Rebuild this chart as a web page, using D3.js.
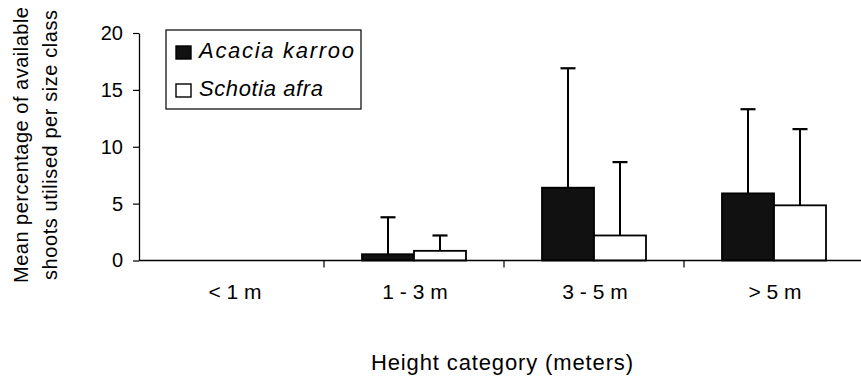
<!DOCTYPE html>
<html>
<head>
<meta charset="utf-8">
<script src="https://cdn.jsdelivr.net/npm/d3@7"></script>
<style>
  html, body { margin: 0; padding: 0; background: #fff; }
  svg { display: block; font-family: "Liberation Sans", Arial, sans-serif; }
</style>
</head>
<body>
<svg id="chart" width="861" height="381"></svg>
<script>
// Height classes and the two tree species
const categories = ["< 1 m", "1 - 3 m", "3 - 5 m", "> 5 m"];
const series = ["Acacia karroo", "Schotia afra"];

// Mean percentage of shoots utilised, per height class
const acaciaMeans = [0, 0.55, 6.4, 5.9];
const schotiaMeans = [0, 0.85, 2.2, 4.85];
// Upper end of the error bars (mean + SD)
const acaciaUpper = [0, 3.8, 16.9, 13.3];
const schotiaUpper = [0, 2.2, 8.65, 11.55];

const yTicks = [0, 5, 10, 15, 20];
const fills = ["#111", "#fff"];
const legendTextWidths = [155, 124];

const FONT = "Liberation Sans, Arial, sans-serif";
const svg = d3.select("#chart");

const x = d3.scaleBand().domain(categories).range([144, 864]);
const groupW = 104;
const x1 = d3.scaleBand().domain(series)
  .range([(x.bandwidth() - groupW) / 2, (x.bandwidth() + groupW) / 2]);
const y = d3.scaleLinear().domain([0, 20]).range([260.5, 33]);

const rows = categories.map((c, i) => ({
  cat: c,
  vals: [
    { s: series[0], mean: acaciaMeans[i], upper: acaciaUpper[i], fill: fills[0] },
    { s: series[1], mean: schotiaMeans[i], upper: schotiaUpper[i], fill: fills[1] }
  ]
}));

// Y axis
const yAxis = svg.append("g").attr("transform", "translate(139,0)")
  .call(d3.axisLeft(y).tickValues(yTicks).tickSize(6).tickSizeOuter(0).tickPadding(10));
yAxis.attr("font-family", FONT).attr("font-size", 20);
yAxis.select(".domain").attr("stroke", "#000").attr("stroke-width", 1.3);
yAxis.selectAll(".tick line").attr("stroke", "#000").attr("stroke-width", 1.2);
yAxis.selectAll(".tick text").attr("fill", "#000");

// Bars
const groups = svg.append("g").selectAll("g").data(rows).join("g")
  .attr("transform", d => `translate(${x(d.cat)},0)`);

groups.selectAll("rect").data(d => d.vals.filter(v => v.mean > 0)).join("rect")
  .attr("x", v => x1(v.s))
  .attr("width", x1.bandwidth())
  .attr("y", v => y(v.mean))
  .attr("height", v => y(0) - y(v.mean))
  .attr("fill", v => v.fill)
  .attr("stroke", "#000")
  .attr("stroke-width", 1.8);

// Error bars (upper only, with caps)
const err = groups.selectAll("g.err").data(d => d.vals.filter(v => v.upper > 0)).join("g")
  .attr("class", "err");
err.append("line")
  .attr("x1", v => x1(v.s) + x1.bandwidth() / 2)
  .attr("x2", v => x1(v.s) + x1.bandwidth() / 2)
  .attr("y1", v => y(v.mean))
  .attr("y2", v => y(v.upper))
  .attr("stroke", "#000").attr("stroke-width", 2);
err.append("line")
  .attr("x1", v => x1(v.s) + x1.bandwidth() / 2 - 7.5)
  .attr("x2", v => x1(v.s) + x1.bandwidth() / 2 + 7.5)
  .attr("y1", v => y(v.upper))
  .attr("y2", v => y(v.upper))
  .attr("stroke", "#000").attr("stroke-width", 2.2);

// X axis
svg.append("line").attr("x1", 139).attr("x2", 861)
  .attr("y1", y(0)).attr("y2", y(0))
  .attr("stroke", "#000").attr("stroke-width", 1.3);
svg.append("g").selectAll("line").data(categories.slice(1)).join("line")
  .attr("x1", d => x(d)).attr("x2", d => x(d))
  .attr("y1", y(0)).attr("y2", y(0) + 7)
  .attr("stroke", "#000").attr("stroke-width", 1.2);
svg.append("g").selectAll("text").data(categories).join("text")
  .attr("x", d => x(d) + x.bandwidth() / 2 + 1)
  .attr("y", 299)
  .attr("text-anchor", "middle")
  .attr("font-size", 21)
  .text(d => d);

// Axis titles
svg.append("text")
  .attr("x", 502).attr("y", 370)
  .attr("text-anchor", "middle")
  .attr("font-size", 22)
  .attr("textLength", 262)
  .attr("lengthAdjust", "spacing")
  .text("Height category (meters)");

const yTitle = svg.append("g").attr("transform", "translate(0,145) rotate(-90)");
yTitle.append("text").attr("x", 0).attr("y", 28)
  .attr("text-anchor", "middle").attr("font-size", 20)
  .attr("textLength", 276).attr("lengthAdjust", "spacing")
  .text("Mean percentage of available");
yTitle.append("text").attr("x", 0).attr("y", 57)
  .attr("text-anchor", "middle").attr("font-size", 20)
  .attr("textLength", 270).attr("lengthAdjust", "spacing")
  .text("shoots utilised per size class");

// Legend
const lg = svg.append("g");
lg.append("rect").attr("x", 166).attr("y", 30).attr("width", 195).attr("height", 79)
  .attr("fill", "#fff").attr("stroke", "#000").attr("stroke-width", 1.2);
const items = lg.selectAll("g").data(series).join("g")
  .attr("transform", (d, i) => `translate(176,${58 + i * 38})`);
items.append("rect").attr("x", 0).attr("y", -12).attr("width", 15).attr("height", 13)
  .attr("fill", (d, i) => fills[i]).attr("stroke", "#000").attr("stroke-width", 1.4);
items.append("text").attr("x", 23).attr("y", 0)
  .attr("font-size", 22).attr("font-style", "italic")
  .attr("textLength", (d, i) => legendTextWidths[i]).attr("lengthAdjust", "spacing")
  .text(d => d);
</script>
</body>
</html>
